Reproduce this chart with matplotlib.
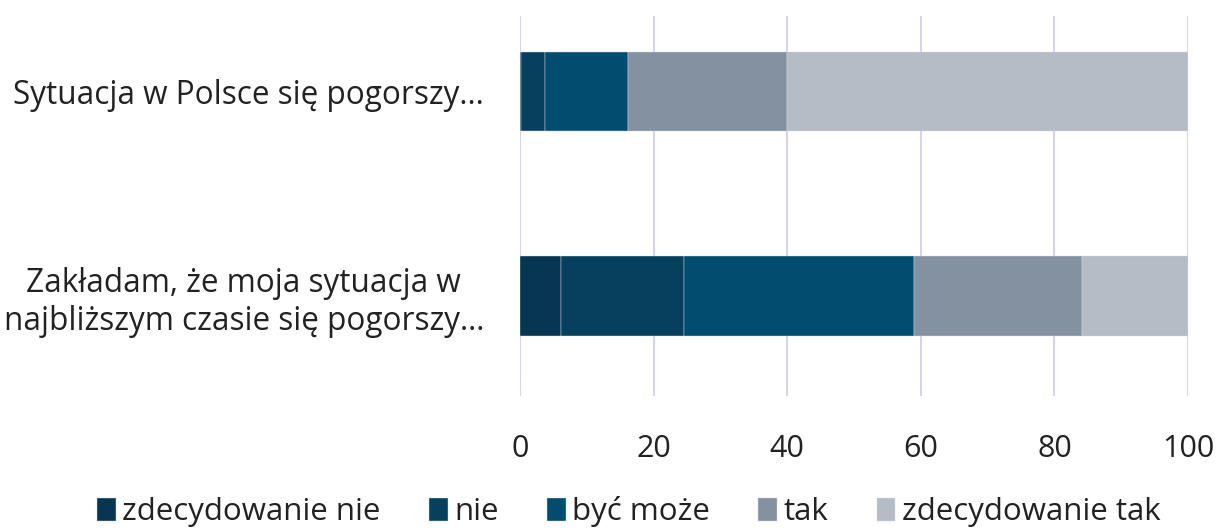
import matplotlib.pyplot as plt
import numpy as np

plt.rcParams["font.family"] = ["Open Sans", "DejaVu Sans"]

# bottom to top, as matplotlib draws barh
questions = [
    "Zakładam, że moja sytuacja w\nnajbliższym czasie się pogorszy...",
    "Sytuacja w Polsce się pogorszy...",
]
answers = ["zdecydowanie nie", "nie", "być może", "tak", "zdecydowanie tak"]
zdecydowanie_nie = [6.1, 0.2]
nie = [18.5, 3.6]
byc_moze = [34.4, 12.3]
tak = [25.2, 23.8]
zdecydowanie_tak = [15.8, 60.1]
colors = ["#063651", "#05405f", "#014d70", "#8391a0", "#b5bcc6"]

series = [zdecydowanie_nie, nie, byc_moze, tak, zdecydowanie_tak]

fig = plt.figure(figsize=(12.21, 5.29), dpi=100)
ax = fig.add_axes([0.4259, 0.2514, 0.973 - 0.4259, 0.9698 - 0.2514])

y = np.arange(len(questions))
left = np.zeros(len(questions))
for vals, name, col in zip(series, answers, colors):
    ax.barh(y, vals, left=left, height=0.39, color=col, label=name,
            edgecolor="#d5dbe3", linewidth=0.3, zorder=3)
    left += np.array(vals)

ax.set_xlim(0, 100)
ax.set_ylim(-0.49, 1.37)
ax.set_xticks(np.arange(0, 101, 20))
ax.set_yticks(y)
ax.set_yticklabels(questions)
for lbl in ax.get_yticklabels():
    lbl.set_multialignment("center")

ax.grid(axis="x", color="#d8d0f2", linewidth=1.4, zorder=0)
for s in ax.spines.values():
    s.set_visible(False)
ax.tick_params(axis="both", length=0, colors="#222222")
ax.tick_params(axis="x", pad=27, labelsize=22)
ax.tick_params(axis="y", pad=26, labelsize=22.7)

fig.legend(loc="lower center", bbox_to_anchor=(0.515, -0.05), ncol=5,
           frameon=False, fontsize=22.5, handlelength=0.6, handleheight=0.8,
           handletextpad=0.2, columnspacing=1.55, labelcolor="#222222")

fig.savefig("out.png", dpi=100)
